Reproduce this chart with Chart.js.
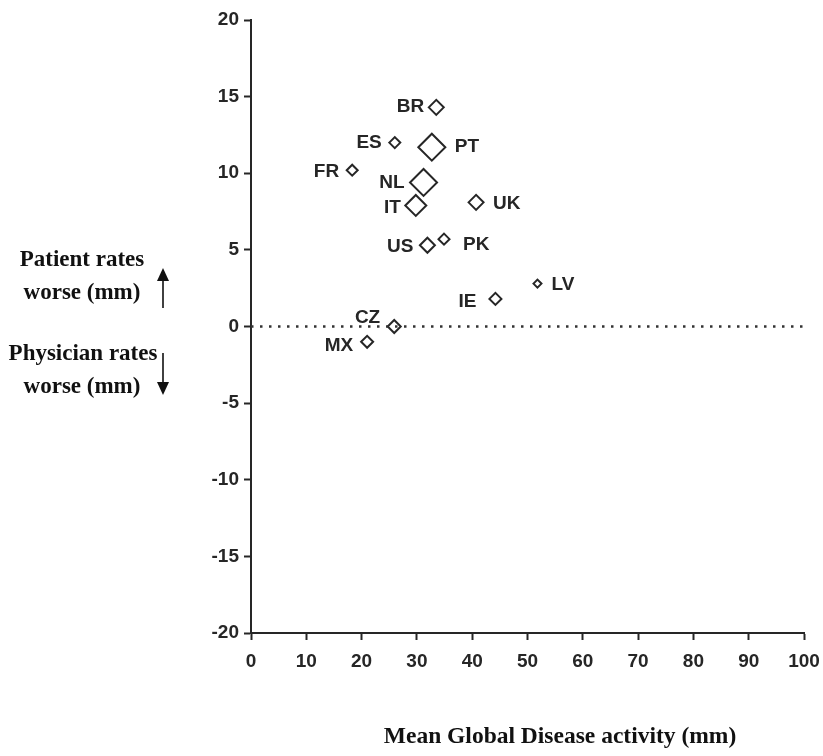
<!DOCTYPE html>
<html>
<head>
<meta charset="utf-8">
<title>Global disease activity: patient vs physician</title>
<script src="https://cdn.jsdelivr.net/npm/chart.js@4"></script>
<style>
  html, body { margin: 0; padding: 0; background: #fff; }
  #wrap { width: 823px; height: 756px; }
</style>
</head>
<body>
<div id="wrap"><canvas id="my_chart" width="823" height="756"></canvas></div>
<script>
(function () {
  'use strict';

  // 国
  const countries = ['BR', 'ES', 'PT', 'FR', 'NL', 'IT', 'UK', 'US', 'PK', 'LV', 'IE', 'CZ', 'MX'];
  // Mean Global Disease activity (mm)
  const meanActivity = [33.5, 26.0, 32.7, 18.3, 31.2, 29.8, 40.7, 31.9, 34.9, 51.8, 44.2, 25.9, 21.0];
  // patient - physician (mm)
  const difference = [14.3, 12.0, 11.7, 10.2, 9.4, 7.9, 8.1, 5.3, 5.7, 2.8, 1.8, 0.0, -1.0];
  // 0 の点線
  const zeroLineX = [0, 100];
  const zeroLineY = [0, 0];
  // 目盛り
  const xTicks = [0, 10, 20, 30, 40, 50, 60, 70, 80, 90, 100];
  const yTicks = [-20, -15, -10, -5, 0, 5, 10, 15, 20];

  // マーカーの大きさ (style)
  const markerRadius = [7.5, 5.5, 13.5, 5.5, 13.5, 10.5, 7.5, 7.5, 5.5, 4, 6, 6.5, 6];
  // ラベルの置き方 [align, dx, dy] (style)
  const labelPlace = [
    ['right', -12, -1], ['right', -13, 0], ['left', 23, 0], ['right', -13, 2],
    ['right', -19, 0], ['right', -15, 2], ['left', 17, 1], ['right', -14, 1],
    ['left', 19, 6], ['left', 14, 1], ['right', -19, 3], ['right', -14, -9],
    ['right', -14, 4],
  ];

  const ink = '#262626';
  const sans = '"Liberation Sans", Arial, sans-serif';
  const serif = '"Liberation Serif", "Times New Roman", serif';

  const points = [];
  for (let i = 0; i < countries.length; i++) {
    points.push({ x: meanActivity[i], y: difference[i] });
  }
  const zeroLine = zeroLineX.map((x, i) => ({ x: x, y: zeroLineY[i] }));

  // 国名ラベル
  const pointLabels = {
    id: 'pointLabels',
    afterDatasetsDraw(chart) {
      const meta = chart.getDatasetMeta(1);
      const ctx = chart.ctx;
      ctx.save();
      ctx.font = 'bold 19px ' + sans;
      ctx.fillStyle = ink;
      ctx.textBaseline = 'middle';
      meta.data.forEach((pt, i) => {
        const p = labelPlace[i];
        ctx.textAlign = p[0];
        ctx.fillText(countries[i], pt.x + p[1], pt.y + p[2]);
      });
      ctx.restore();
    }
  };

  function arrow(ctx, x, y0, y1) {
    const dir = y1 > y0 ? 1 : -1;
    ctx.beginPath();
    ctx.moveTo(x, y0);
    ctx.lineTo(x, y1 - dir * 10);
    ctx.lineWidth = 1.6;
    ctx.strokeStyle = '#111';
    ctx.stroke();
    ctx.beginPath();
    ctx.moveTo(x, y1);
    ctx.lineTo(x - 6, y1 - dir * 13);
    ctx.lineTo(x + 6, y1 - dir * 13);
    ctx.closePath();
    ctx.fillStyle = '#111';
    ctx.fill();
  }

  // 軸の説明
  const sideText = {
    id: 'sideText',
    afterDraw(chart) {
      const ctx = chart.ctx;
      ctx.save();
      ctx.font = 'bold 23px ' + serif;
      ctx.fillStyle = '#111';
      ctx.textAlign = 'center';
      ctx.textBaseline = 'middle';
      ctx.fillText('Patient rates', 82, 260);
      ctx.fillText('worse (mm)', 82, 293);
      ctx.fillText('Physician rates', 83, 354);
      ctx.fillText('worse (mm)', 82, 387);
      ctx.font = 'bold 23.5px ' + serif;
      ctx.fillText('Mean Global Disease activity (mm)', 560, 737);
      arrow(ctx, 163, 308, 268);
      arrow(ctx, 163, 353, 395);
      ctx.restore();
    }
  };

  const axisStyle = {
    border: { display: true, color: ink, width: 2 },
    grid: { display: true, drawOnChartArea: false, drawTicks: true, tickLength: 7, tickWidth: 2, tickColor: ink },
  };

  const ctx = document.getElementById('my_chart').getContext('2d');

  new Chart(ctx, {
    type: 'scatter',
    data: {
      datasets: [
        {
          type: 'line',
          data: zeroLine,
          showLine: true,
          borderColor: '#333',
          borderWidth: 2.5,
          borderDash: [2.5, 6.5],
          pointRadius: 0,
          fill: false,
        },
        {
          data: points,
          pointStyle: 'rectRot',
          pointRadius: markerRadius,
          borderColor: ink,
          borderWidth: 2,
          backgroundColor: 'rgba(0,0,0,0)',
        },
      ],
    },
    options: {
      responsive: false,
      animation: false,
      events: [],
      layout: { padding: { left: 181, right: 19, top: 20, bottom: 83 } },
      plugins: { legend: { display: false }, tooltip: { enabled: false } },
      scales: {
        x: Object.assign({
          type: 'linear',
          min: 0,
          max: 100,
          afterBuildTicks: (axis) => { axis.ticks = xTicks.map(v => ({ value: v })); },
          afterFit: (axis) => { axis.height = 40; axis.paddingRight = 16; axis.paddingLeft = 0; },
          ticks: { color: ink, font: { family: sans, size: 19, weight: 'bold' }, padding: 10, maxRotation: 0 },
        }, axisStyle),
        y: Object.assign({
          type: 'linear',
          min: -20,
          max: 20,
          afterBuildTicks: (axis) => { axis.ticks = yTicks.map(v => ({ value: v })); },
          afterFit: (axis) => { axis.width = 70; },
          ticks: { color: ink, font: { family: sans, size: 19, weight: 'bold' }, padding: 5 },
        }, axisStyle),
      },
    },
    plugins: [pointLabels, sideText],
  });

})();
</script>
</body>
</html>
